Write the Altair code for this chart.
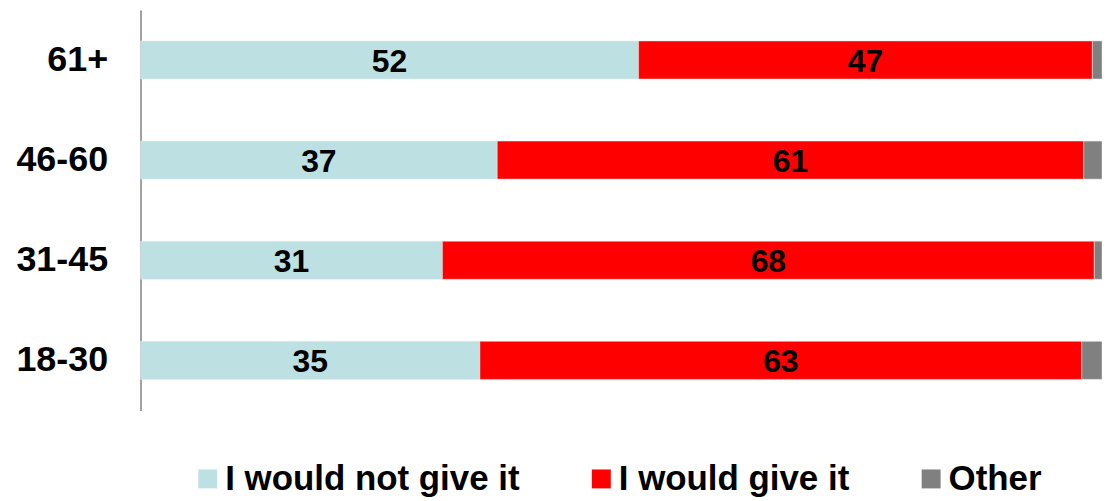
import altair as alt
import pandas as pd

ages = ["61+", "46-60", "31-45", "18-30"]
not_give = [51.8, 37.1, 31.4, 35.3]
give = [47.2, 61.0, 67.8, 62.6]
other = [1.0, 1.9, 0.8, 2.1]
series = ["I would not give it", "I would give it", "Other"]
colors = ["#BDE0E3", "#FF0000", "#808080"]

rows = []
for i, a in enumerate(ages):
    for k, (s, vals) in enumerate(zip(series, [not_give, give, other])):
        rows.append({"age": a, "series": s, "value": vals[i], "order": k})
df = pd.DataFrame(rows)

base = alt.Chart(df).transform_stack(
    stack="value", groupby=["age"], as_=["x0", "x1"],
    sort=[alt.SortField("order", order="ascending")]
).transform_calculate(mid="(datum.x0 + datum.x1) / 2")

yenc = alt.Y("age:N", sort=ages, title=None,
             scale=alt.Scale(paddingInner=0.62, paddingOuter=0.31),
             axis=alt.Axis(labelFont="Liberation Sans", labelFontWeight="bold",
                           labelFontSize=36, labelColor="#000000", labelPadding=33,
                           ticks=False, domainColor="#808080", domainWidth=1.5,
                           grid=False))

bars = base.mark_bar(stroke="#e8e8e8", strokeWidth=0.5).encode(
    y=yenc,
    x=alt.X("x0:Q", scale=alt.Scale(domain=[0, 100], nice=False), axis=None),
    x2="x1:Q",
    color=alt.Color("series:N", sort=series,
                    scale=alt.Scale(domain=series, range=colors),
                    legend=alt.Legend(title=None, orient="none", direction="horizontal",
                                      legendX=50, legendY=453,
                                      symbolType="square", symbolSize=361,
                                      symbolStrokeWidth=0, symbolOpacity=1,
                                      labelFont="Liberation Sans", labelFontWeight="bold",
                                      labelFontSize=35, labelColor="#000000",
                                      labelOffset=0, labelLimit=0,
                                      columnPadding=64)),
)

texts = base.transform_filter(alt.datum.series != "Other").mark_text(
    font="Liberation Sans", fontWeight="bold", fontSize=32, color="#000000",
    baseline="middle", dy=2
).encode(
    y=alt.Y("age:N", sort=ages),
    x=alt.X("mid:Q"),
    text=alt.Text("value:Q", format=".0f"),
)

chart = alt.layer(bars, texts).properties(
    width=965, height=402,
    autosize=alt.AutoSizeParams(type="none"),
    padding={"left": 133, "top": 1, "right": 0, "bottom": 90},
).configure_view(stroke=None)

chart.save("out.html", embed_options={"renderer": "svg", "actions": False})
